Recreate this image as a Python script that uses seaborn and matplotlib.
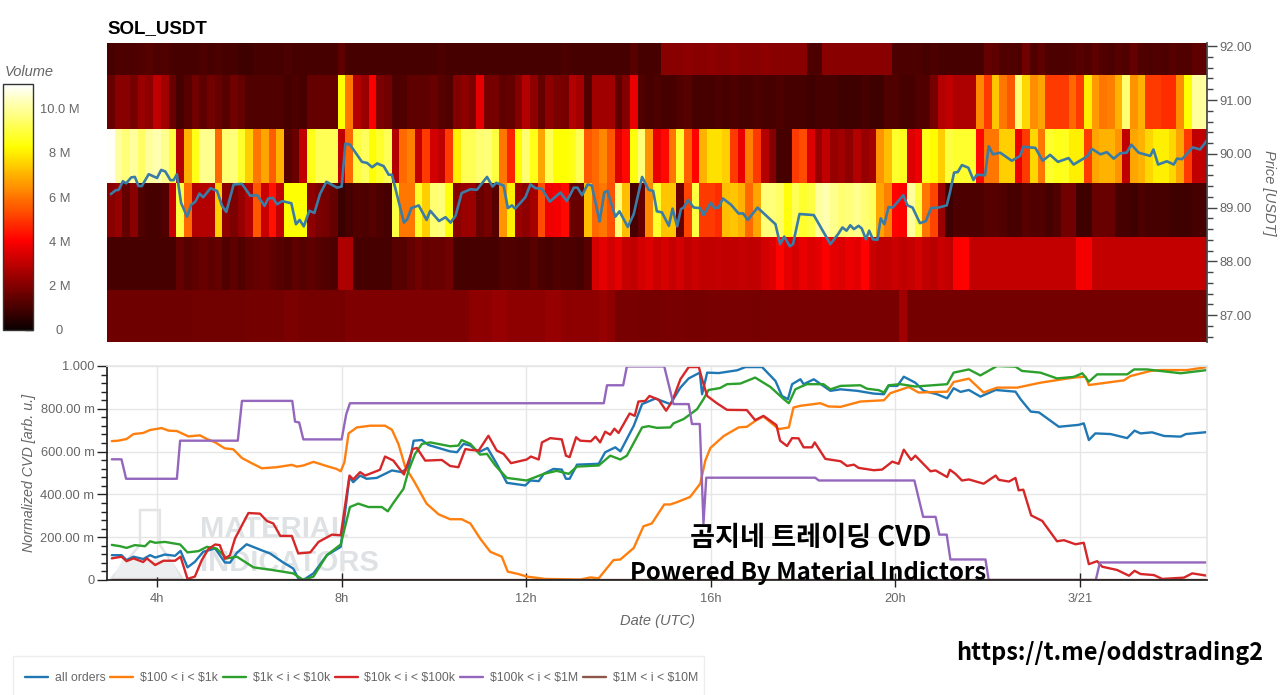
import matplotlib
matplotlib.use('Agg')
import matplotlib.pyplot as plt
from matplotlib.patches import Polygon, Rectangle
from matplotlib.ticker import FixedLocator, MultipleLocator
import numpy as np
import pandas as pd
import seaborn as sns

# volume per price band (millions), one value per 10 minute column
price_levels = [91.96, 90.96, 89.96, 88.96, 87.96, 86.96]
vol_92 = [1,1.1,1.1,1.1,1.2,1.3,1.1,1.2,1,1,
          1,1,1.1,1,1.1,1,1,0.9,0.9,1,
          1,1,1,1.1,1,1,1,1,1,1,
          1.4,1,1,1,1,1,1,1,1,1,
          1,1,1,1.1,1,1,1,1,1,1,
          1,1,1,1,1,1,1,1,1,1.1,
          1,1,1,1,1,1,1,1,1.3,1,
          1,1,2.1,2.1,2.1,2.2,2.1,2.1,2.2,2.1,
          2.1,2.2,2.1,2.1,2.1,2.2,2.1,2.1,2.1,2.1,
          2.1,1.1,1.1,2.1,2.1,2.1,2.1,2.1,2.1,2.1,
          2.1,2.1,1.1,1.1,1.1,1.1,1,1.1,1,1,
          1,1,1,1,1.5,1.4,1.2,1.2,1.1,1.7,
          1.2,1.4,1.1,1.1,1.1,1.2,1.3,1.2,1.4,1.2,
          1.1,1.3,1.2,1.5,1.2,1.1,1.2,1.1,1.3,1.2,
          1.2,1.4,1.4]
vol_91 = [1.6,2.1,2.1,1.8,2.4,2.2,3.0,2.5,1.6,1.0,
          1.3,1.7,1.4,1.7,1.5,1.3,1.7,1.5,1.2,1.2,
          1.2,1.2,1.2,1.0,1.1,1.0,1.5,1.5,1.5,1.5,
          8.3,6,2.8,2.4,4,1.9,1.7,1.1,1.2,1.4,
          1.4,1.4,1.6,1.3,1.2,2.0,2.2,1.9,3.6,1.8,
          1.8,1.4,1.5,2.0,2.8,2.2,1.5,2.2,1.9,1.8,
          2.8,2.6,1.2,2.5,2.5,2.5,1.4,2.0,3.7,1.2,
          1.0,1.1,1.0,1.0,1.2,1.3,1,1,1,1.1,
          1,1.1,1,1,1.1,1,1,1.1,1,1,
          1,0.9,1,1,1,0.9,0.9,0.9,1.0,0.9,
          0.9,1.2,1.2,1,1,1.2,1.2,1.8,2.8,3,
          2.7,2.7,2.7,6.3,5,7.3,6,5.5,9.6,7.6,
          6.4,6.8,5,5,5,5.8,5,8,6.6,6,
          6.2,7,9.5,6.5,7,5,5,4.8,4.8,6.4,
          8.3,10,10]
vol_90 = [11,10,9.6,10,9.4,10,10.2,9.8,9,2.8,
          7,8.5,9.8,9.8,5.8,9.5,9.6,8.8,7.5,6,
          6.8,5.6,7,1.3,1.6,3.0,8.5,9.2,9.2,9.2,
          3.0,5.8,9.0,9.3,8.3,8.8,9.2,2.8,5.8,6.2,
          3.0,5.0,3.3,3.0,5.0,8,9.2,9.2,9.5,9.6,
          9,6,4.6,8.3,9.5,8.5,6.8,9.2,8.3,8.3,
          8.5,9.2,5.5,5.8,6.3,5.5,3.5,4.2,8.4,9.6,
          6.5,3.7,4.2,6,8.8,5.6,4.1,7,7.8,7.8,
          7.5,5,3.7,6.2,5,2.8,2,1,1,5,
          5.3,3.5,2.3,3,2.3,2.5,2.2,2.8,2.3,2.6,
          6.5,7.2,8.8,8.6,3.5,3.8,8.5,8.2,7.5,9,
          8.8,8.8,8.8,4.2,6,6,7.5,7.5,3.8,5,
          7.6,6,8.8,8.5,8.6,8,8,5,6.8,7,
          7,6.5,3,6.8,7,7.6,8,8,7.6,6.8,
          5,3,3]
vol_89 = [2.1,2.3,1.5,2.1,1.2,1,1,1.2,3.2,9,
          5.8,2.8,2.8,2.8,7.5,2.2,1.9,2.3,2.8,5.5,
          3.2,4.3,3,8.3,8.3,8.3,2.2,1.9,1.8,1.5,
          0.8,1,1.2,1.1,1.3,1.1,1,9,6,6,
          8.8,7.5,9.5,9.6,8.4,2.1,2.4,2.4,1.6,1.8,
          1.3,6.5,8,2.4,2.2,2.6,5.3,3.8,3.9,4.2,
          1.6,1.6,7.2,5.8,6,5.4,9.6,7.2,1,1.5,
          6.3,8.8,7.3,7.3,1.6,5.2,9,5,5,4.8,
          7.2,7.3,7,5.8,6.8,9.6,9.6,9.4,8.4,9.2,
          8.8,9,10,10.2,9.8,9.5,9.6,9.8,9.5,9.3,
          6.8,6.2,4.1,4,10,9,6,5.2,2.4,0.9,
          1.1,1.1,1.1,1.1,1.3,1.3,1.2,1,1,1.3,
          1.2,1.2,1,1.2,1.7,1.7,0.9,0.9,1.6,1.6,
          1.6,1,1,0.9,1.1,1,1,1,0.9,0.9,
          0.9,1,1]
vol_88 = [1,1,1,1,1,1,1,1,1,1.5,
          1.3,1.4,1.6,1.4,1.5,1.2,1.4,1.2,1.4,1.5,
          1.6,1.4,1.3,1.2,1.4,1.3,1.4,1.3,1.2,1.1,
          2.7,2.7,1,1,1,1,1,1.3,1.3,1.5,
          1.7,1.5,1.6,1.6,1.7,1,1,1,1,1,
          1,1.2,1.2,1.1,1.1,1.3,1.1,1,1.2,1.1,
          1.1,1,1.3,3.4,3.6,3.3,3.6,3.1,3,3.3,
          3.5,3.2,3.4,3.1,3.3,3,3.2,3,3,3.1,
          3,3,3.1,3,3,3.3,3.5,4.1,3.6,3.4,
          3.7,3.5,3.6,4,3.6,3.5,3.7,3.6,4.1,3.2,
          3,3,3.2,3,3.1,3.3,3,2.9,3.2,3,
          4,4.1,3.05,3.05,3.05,3.05,3.05,3.05,3.05,3.05,
          3.05,3.05,3.05,3.05,3.05,3.05,3.9,3.9,3.05,3.05,
          3.05,3.05,3.05,3.05,3.05,3.05,3.05,3.05,3.05,3.05,
          3.05,3.05,3.05]
vol_87 = [1.65,1.65,1.65,1.65,1.65,1.65,1.65,1.65,1.65,1.65,
          1.65,1.7,1.7,1.7,1.7,1.7,1.7,1.7,1.75,1.75,
          1.75,1.75,1.75,1.9,1.9,1.8,1.8,1.8,1.8,1.8,
          1.8,1.95,1.95,1.95,1.95,1.95,1.95,1.95,1.95,1.95,
          1.95,1.95,1.95,1.95,1.95,1.95,1.95,2.2,2.2,2.2,
          2.3,2.3,2.2,2.2,2.2,2.2,2.2,2.3,2.3,2.2,
          2.2,2.2,2.2,2.2,2.3,2.2,1.85,1.85,1.85,1.8,
          1.8,1.8,1.85,1.85,1.85,1.8,1.8,1.8,1.85,1.85,
          1.85,1.85,1.85,1.85,1.8,1.85,1.85,1.85,1.85,1.85,
          1.85,1.85,1.85,1.85,1.85,1.85,1.85,1.85,1.85,1.85,
          1.85,1.85,1.85,2.5,1.75,1.75,1.75,1.75,1.75,1.75,
          1.75,1.75,1.75,1.75,1.75,1.75,1.75,1.75,1.75,1.75,
          1.75,1.75,1.75,1.75,1.75,1.75,1.75,1.75,1.75,1.75,
          1.75,1.75,1.75,1.75,1.75,1.75,1.75,1.75,1.75,1.75,
          1.75,1.75,1.75]

# price line, hours since 3/20 00:00
price_t = [3.00,3.10,3.17,3.26,3.33,3.44,3.52,3.60,3.67,3.82,4.00,4.09,4.18,4.29,4.36,4.43,4.52,4.65,4.74,4.83,4.92,5.00,5.16,5.30,5.41,5.50,5.66,5.84,6.02,6.17,6.33,6.41,6.51,6.60,6.71,6.91,7.01,7.09,7.18,7.30,7.41,7.53,7.67,7.90,8.00,8.08,8.18,8.44,8.55,8.66,8.77,8.91,9.02,9.09,9.35,9.42,9.51,9.67,9.84,9.92,10.11,10.25,10.36,10.47,10.60,10.79,
           10.93,11.15,11.27,11.35,11.51,11.60,11.69,11.76,11.98,12.09,12.20,12.34,12.51,12.74,12.88,13.03,13.11,13.21,13.33,13.42,13.59,13.69,13.76,13.93,14.02,14.20,14.33,14.51,14.65,14.75,14.83,14.94,15.09,15.17,15.27,15.35,15.41,15.50,15.63,15.77,15.84,16.00,16.08,16.17,16.26,16.44,16.60,16.70,16.80,17.01,17.40,17.50,17.59,17.71,17.78,17.92,18.23,18.59,
           18.76,18.85,18.94,19.02,19.10,19.20,19.27,19.36,19.43,19.51,19.61,19.68,19.76,19.85,19.94,20.17,20.26,20.37,20.53,20.66,20.77,20.93,21.11,21.18,21.27,21.35,21.44,21.58,21.69,21.76,21.94,22.02,22.11,22.27,22.52,22.70,22.77,23.03,23.19,23.35,23.52,23.75,23.86,24.15,24.26,24.44,24.58,24.73,24.87,25.01,25.11,25.27,25.52,25.59,25.69,25.88,26.03,26.10,26.21,26.44,26.60,26.75]
price_v = [89.25,89.32,89.33,89.49,89.45,89.56,89.57,89.40,89.40,89.62,89.55,89.70,89.67,89.51,89.51,89.62,89.09,88.83,89.05,89.11,89.26,89.19,89.36,89.31,89.03,88.92,89.43,89.44,89.22,89.23,89.03,89.17,89.18,89.06,89.12,89.08,88.69,88.77,88.65,88.94,88.90,89.25,89.48,89.37,89.39,90.19,90.17,89.85,89.83,89.75,89.82,89.77,89.61,89.61,88.72,88.78,88.99,89.04,88.77,88.94,88.75,88.82,88.72,88.85,89.27,89.34,
           89.33,89.57,89.39,89.46,89.41,88.99,89.04,88.98,89.19,89.43,89.36,89.35,89.11,89.28,89.12,89.37,89.37,89.23,89.43,89.41,88.74,89.28,89.31,88.83,88.93,88.64,88.88,89.57,89.33,89.31,88.93,88.91,88.66,88.98,88.65,88.97,89.00,89.14,89.00,88.99,88.86,89.09,88.99,89.00,89.17,89.05,88.89,88.89,88.77,89.00,88.69,88.32,88.46,88.28,88.32,88.88,88.86,88.32,
           88.51,88.63,88.57,88.67,88.60,88.66,88.61,88.41,88.57,88.41,88.40,88.80,88.69,89.01,89.00,89.23,89.04,89.00,88.71,88.75,88.99,89.00,89.04,89.28,89.65,89.66,89.79,89.74,89.51,89.61,89.60,90.14,89.99,90.02,89.87,89.96,90.13,90.11,89.87,89.98,89.85,89.92,89.80,89.95,90.09,89.99,90.03,89.91,90.01,90.02,90.17,90.02,89.96,90.08,89.80,89.86,89.80,89.91,89.90,90.12,90.08,90.25]

# normalized CVD series
all_t = [3.02,3.23,3.34,3.49,3.70,3.85,3.96,4.17,4.39,4.51,4.66,4.82,5.00,5.26,5.47,5.58,5.73,5.94,6.30,6.45,6.74,6.95,7.06,7.17,7.39,7.68,7.98,8.17,8.25,8.40,8.54,8.76,9.09,9.30,9.45,9.56,9.74,9.88,10.35,10.50,10.64,
         10.79,10.97,11.16,11.36,11.58,11.98,12.09,12.27,12.38,12.59,12.77,12.86,12.94,13.10,13.57,13.71,13.93,14.04,14.33,14.51,14.80,15.12,15.34,15.52,15.76,15.81,15.92,16.17,16.57,16.75,17.11,17.40,17.54,17.67,17.76,17.94,18.01,18.23,18.41,18.59,
         18.81,19.17,19.53,19.75,19.85,20.04,20.18,20.43,20.61,20.90,21.12,21.26,21.41,21.59,21.84,22.17,22.60,22.71,22.93,23.11,23.54,23.97,24.08,24.19,24.33,24.66,25.02,25.18,25.31,25.56,25.82,26.18,26.29,26.75]
all_v = [.116,.116,.093,.109,.098,.116,.105,.119,.113,.136,.059,.085,.132,.147,.082,.081,.127,.167,.136,.124,.081,.054,.008,0,.031,.116,.155,.481,.457,.488,.473,.477,.512,.504,.527,.651,.654,.631,.601,.597,.636,
         .628,.597,.617,.543,.454,.442,.465,.462,.496,.519,.516,.473,.473,.539,.543,.597,.620,.601,.721,.822,.848,.822,.899,.942,.969,.868,.969,.967,.980,.995,.995,.930,.860,.845,.915,.938,.915,.938,.911,.884,
         .891,.884,.871,.868,.907,.907,.950,.922,.884,.868,.849,.896,.879,.888,.857,.888,.880,.845,.787,.783,.716,.725,.732,.654,.685,.682,.663,.698,.685,.690,.673,.670,.682,.691]

o100_t = [3.02,3.16,3.34,3.49,3.70,3.85,4.10,4.25,4.43,4.68,4.93,5.08,5.26,5.47,5.65,5.84,6.05,6.27,6.59,6.92,7.03,7.17,7.39,7.68,7.89,7.98,8.06,8.15,8.33,8.62,8.94,9.09,9.23,9.38,9.56,9.84,10.10,10.35,10.60,
          10.79,11.00,11.22,11.47,11.60,11.83,12.01,12.41,13.17,13.39,13.57,13.89,14.04,14.33,14.54,14.72,14.99,15.12,15.27,15.55,15.77,15.88,15.99,16.28,16.60,16.78,17.00,17.14,17.47,17.69,17.79,17.94,18.37,18.55,
          18.81,19.24,19.75,19.89,20.29,20.50,21.12,21.26,21.59,21.91,22.20,22.64,23.14,23.86,24.12,24.19,24.95,25.09,25.53,25.74,26.32,26.75]
o100_v = [.649,.651,.659,.682,.687,.701,.710,.698,.696,.671,.676,.659,.643,.615,.611,.570,.546,.522,.527,.538,.530,.535,.552,.532,.519,.508,.550,.685,.713,.721,.721,.702,.636,.527,.465,.357,.307,.284,.284,
          .264,.194,.132,.109,.039,.028,.016,.005,.002,.012,.008,.093,.096,.150,.251,.264,.353,.353,.364,.388,.450,.558,.617,.673,.713,.716,.749,.764,.705,.713,.806,.814,.826,.811,
          .809,.834,.840,.873,.902,.876,.880,.925,.941,.876,.899,.899,.922,.946,.950,.911,.933,.953,.977,.981,.981,.995]

o1k_t = [3.02,3.20,3.34,3.52,3.74,3.85,3.96,4.17,4.50,4.66,4.90,5.08,5.29,5.51,5.73,6.09,6.49,6.95,7.17,7.39,7.68,7.98,8.18,8.36,8.58,8.87,9.00,9.12,9.34,9.45,9.59,9.74,9.92,10.35,10.53,10.60,
         10.79,11.00,11.15,11.33,11.58,12.01,12.38,12.66,12.92,13.10,13.57,13.82,14.04,14.18,14.51,14.65,14.83,15.12,15.19,15.41,15.70,15.84,15.95,16.20,16.35,16.64,16.96,17.29,17.58,17.69,17.83,17.94,18.08,18.44,18.59,
         18.81,19.24,19.38,19.64,19.75,19.85,20.11,20.43,21.12,21.26,21.59,21.84,22.20,22.60,22.74,23.14,23.50,23.86,24.05,24.19,24.37,25.02,25.17,25.45,26.18,26.75]
o1k_v = [.164,.158,.150,.163,.158,.181,.174,.178,.166,.129,.135,.155,.147,.101,.109,.059,.047,.031,0,.016,.116,.166,.341,.357,.341,.341,.321,.360,.426,.512,.589,.636,.643,.625,.628,.654,
         .636,.586,.589,.535,.477,.465,.496,.510,.496,.530,.535,.581,.563,.581,.713,.719,.711,.713,.732,.752,.798,.845,.888,.897,.915,.918,.946,.902,.845,.826,.891,.902,.915,.915,.891,
         .907,.910,.894,.887,.876,.910,.915,.904,.915,.969,.984,.956,1.0,.997,.977,.969,.942,.949,.966,.927,.961,.961,.984,.984,.966,.981]

o10k_t = [3.02,3.23,3.34,3.49,3.70,3.78,3.96,4.14,4.39,4.51,4.66,4.82,4.97,5.11,5.26,5.36,5.47,5.58,5.69,5.98,6.23,6.38,6.52,6.67,6.92,7.06,7.32,7.50,7.79,7.98,8.17,8.25,8.40,8.51,8.83,8.94,9.12,9.35,9.54,9.63,9.81,10.17,10.35,10.53,10.68,
          10.79,10.97,11.18,11.36,11.51,11.67,12.01,12.10,12.27,12.34,12.52,12.77,12.86,12.94,13.08,13.17,13.40,13.50,13.60,13.71,13.82,13.91,14.00,14.24,14.35,14.43,14.58,14.67,14.87,15.03,15.16,15.34,15.52,15.74,15.81,15.92,16.13,16.35,16.78,16.96,17.14,17.42,17.50,17.65,17.76,17.90,18.01,18.19,18.25,18.48,
          18.81,18.95,19.10,19.20,19.53,19.71,19.93,20.07,20.18,20.34,20.43,20.76,20.87,21.12,21.18,21.30,21.44,21.59,21.91,22.17,22.24,22.46,22.60,22.67,22.77,22.94,23.18,23.50,23.65,23.90,24.08,24.19,24.37,24.48,24.80,25.06,25.18,25.31,25.60,25.78,26.25,26.43,26.75]
o10k_v = [.101,.109,.088,.101,.084,.101,.070,.090,.090,.109,.005,.016,.093,.144,.166,.163,.099,.116,.194,.313,.310,.276,.264,.206,.206,.124,.129,.178,.212,.209,.488,.470,.504,.488,.515,.577,.558,.493,.612,.617,.558,.561,.533,.527,.612,
          .608,.605,.674,.605,.589,.546,.563,.577,.563,.643,.663,.657,.581,.574,.667,.651,.648,.670,.643,.693,.679,.707,.687,.778,.767,.834,.837,.860,.842,.791,.834,.938,.995,.995,.938,.860,.826,.795,.794,.747,.767,.724,.651,.626,.663,.662,.620,.620,.643,.566,
          .555,.533,.539,.524,.513,.516,.553,.543,.609,.561,.581,.508,.512,.481,.515,.496,.465,.470,.450,.488,.468,.460,.477,.419,.422,.302,.276,.181,.186,.167,.174,.074,.088,.062,.047,.020,.043,.028,.023,.005,.011,.031,.020]

o100k_t = [3.02,3.23,3.33,4.43,4.50,5.75,5.84,6.93,6.99,7.08,7.17,8.00,8.10,8.18,
           13.68,13.75,14.10,14.18,14.99,15.19,15.52,15.59,15.76,15.84,15.90,18.26,18.34,
           20.41,20.60,20.87,20.95,21.11,21.19,21.95,22.02,24.34,24.43,26.75]
o100k_v = [.564,.564,.473,.473,.651,.651,.837,.837,.740,.736,.657,.657,.775,.826,
           .826,.910,.910,.998,.998,.822,.822,.729,.729,.264,.478,.478,.465,
           .465,.295,.295,.212,.212,.096,.096,0,0,.082,.082]

o1m_t = [3.02, 26.75]
o1m_v = [0, 0]

series_names = ['all orders', '$100 < i < $1k', '$1k < i < $10k', '$10k < i < $100k', '$100k < i < $1M', '$1M < i < $10M']
series_t = [all_t, o100_t, o1k_t, o10k_t, o100k_t, o1m_t]
series_v = [all_v, o100_v, o1k_v, o10k_v, o100k_v, o1m_v]

x_ticks = [4, 8, 12, 16, 20, 24]
x_labels = ['4h', '8h', '12h', '16h', '20h', '3/21']
cvd_ticks = [0, .2, .4, .6, .8, 1.0]
cvd_labels = ['0', '200.00 m', '400.00 m', '600.00 m', '800.00 m', '1.000']
price_ticks = [87, 88, 89, 90, 91, 92]
vol_ticks = [0, 2, 4, 6, 8, 10]
vol_labels = ['0', '2 M', '4 M', '6 M', '8 M', '10.0 M']

sns.set_theme(style='white')
plt.rcParams['font.family'] = ['Liberation Sans', 'DejaVu Sans']
grey = '#666666'
W, H = 1280, 695


def box(left, top, right, bottom):
    # pixel box to figure fractions
    return [left / W, 1 - bottom / H, (right - left) / W, (bottom - top) / H]


fig = plt.figure(figsize=(12.8, 6.95), dpi=100)
ax_heat = fig.add_axes(box(107, 43, 1207, 342))
ax_cbar = fig.add_axes(box(3, 84, 33, 330))
ax_cvd = fig.add_axes(box(107, 366, 1207, 580))

x_min, x_max = 2.916, 26.75
y_min, y_max = 86.5, 92.06

### heatmap
volume = pd.DataFrame([vol_92, vol_91, vol_90, vol_89, vol_88, vol_87], index=price_levels)
sns.heatmap(volume, ax=ax_heat, cmap='hot', vmin=0, vmax=11.1, cbar_ax=ax_cbar,
            xticklabels=False, yticklabels=False)
ax_heat.set_xlabel('')
ax_heat.set_ylabel('')
# bands are one dollar tall and the top and bottom ones are cut by the price range
top_edge = price_levels[0] + 0.5
ax_heat.set_ylim(top_edge - y_min, top_edge - y_max)
ax_heat.set_title('SOL_USDT', loc='left', fontsize=13.5, fontweight='bold', color='black', pad=7.5)

### price line on top of the heatmap
ax_price = fig.add_axes(box(107, 43, 1207, 342), facecolor='none')
sns.lineplot(x=price_t, y=price_v, ax=ax_price, color='#3a7ca5', linewidth=1.9, estimator=None, sort=False)
ax_price.set_xlim(x_min, x_max)
ax_price.set_ylim(y_min, y_max)
ax_price.xaxis.set_visible(False)
ax_price.yaxis.tick_right()
ax_price.yaxis.set_label_position('right')
ax_price.set_yticks(price_ticks)
ax_price.set_yticklabels(['%.2f' % p for p in price_ticks])
ax_price.yaxis.set_minor_locator(MultipleLocator(0.2))
ax_price.tick_params(axis='y', which='major', direction='out', length=7, width=1, color='#444444',
                     labelsize=9.3, labelcolor=grey, pad=2, right=True)
ax_price.tick_params(axis='y', which='minor', direction='out', length=4, width=1, color='#444444', right=True)
ax_price.set_ylabel('Price [USDT]', fontsize=10.5, style='italic', color=grey, rotation=-90, labelpad=17)
for side in ['left', 'bottom', 'top']:
    ax_price.spines[side].set_visible(False)
ax_price.spines['right'].set_visible(True)
ax_price.spines['right'].set_color('#444444')

### colorbar
cbar = ax_heat.collections[0].colorbar
cbar.set_ticks(vol_ticks)
cbar.set_ticklabels(vol_labels)
cbar.ax.tick_params(direction='in', length=6, width=1, color='#222222', labelsize=9.3, labelcolor=grey, pad=19, right=True)
for lab in cbar.ax.get_yticklabels():
    lab.set_ha('center')
cbar.outline.set_visible(True)
cbar.outline.set_edgecolor('#333333')
cbar.outline.set_linewidth(1)
fig.text(5 / W, 1 - 72 / H, 'Volume', fontsize=10.5, style='italic', color=grey, va='center')

### watermark, sits under the lines
ax_cvd.text(0.085, 0.238, 'MATERIAL', transform=ax_cvd.transAxes, fontsize=21, fontweight='bold',
            color='#dfe2e4', va='center', zorder=0.5)
ax_cvd.text(0.085, 0.08, 'INDICATORS', transform=ax_cvd.transAxes, fontsize=21, fontweight='bold',
            color='#dfe2e4', va='center', zorder=0.5)
flask = [(0.030, 0.327), (0.048, 0.327), (0.048, 0.164), (0.068, 0.01), (0.0045, 0.01), (0.030, 0.164)]
liquid = [(0.0136, 0.093), (0.059, 0.093), (0.066, 0.012), (0.006, 0.012)]
ax_cvd.add_patch(Polygon(flask, closed=True, transform=ax_cvd.transAxes, facecolor='white',
                         edgecolor='#e2e4e6', linewidth=1.8, zorder=0.5))
ax_cvd.add_patch(Polygon(liquid, closed=True, transform=ax_cvd.transAxes, facecolor='#eceef0',
                         edgecolor='none', zorder=0.6))

### CVD lines
cvd = pd.concat([pd.DataFrame({'t': t, 'v': v, 'group': name})
                 for t, v, name in zip(series_t, series_v, series_names)])
palette = ['#1f77b4', '#ff7f0e', '#2ca02c', '#d62728', '#9467bd', '#8c564b']
sns.lineplot(data=cvd, x='t', y='v', hue='group', hue_order=series_names, palette=palette,
             ax=ax_cvd, linewidth=1.7, estimator=None, sort=False)
ax_cvd.set_xlim(x_min, x_max)
ax_cvd.set_ylim(0, 1.0)
ax_cvd.set_xticks(x_ticks)
ax_cvd.set_xticklabels(x_labels)
ax_cvd.set_yticks(cvd_ticks)
ax_cvd.set_yticklabels(cvd_labels)
ax_cvd.yaxis.set_minor_locator(FixedLocator(np.arange(0, 1.001, 0.04)))
ax_cvd.grid(True, which='major', color='#e6e6e6', linewidth=1)
ax_cvd.set_axisbelow(True)
ax_cvd.tick_params(axis='x', which='major', direction='inout', length=10, width=1, color='#222222',
                   labelsize=9.3, labelcolor=grey, pad=4, bottom=True)
ax_cvd.tick_params(axis='y', which='major', direction='out', length=7, width=1, color='#222222',
                   labelsize=9.3, labelcolor=grey, pad=2, left=True)
ax_cvd.tick_params(axis='y', which='minor', direction='out', length=4, width=1, color='#222222', left=True)
ax_cvd.set_xlabel('Date (UTC)', fontsize=10.5, style='italic', color=grey, labelpad=7)
ax_cvd.set_ylabel('Normalized CVD [arb. u.]', fontsize=10.3, style='italic', color=grey, labelpad=3)
ax_cvd.spines['left'].set_color('#222222')
ax_cvd.spines['bottom'].set_color('#222222')
ax_cvd.spines['top'].set_color('#e6e6e6')
ax_cvd.spines['right'].set_color('#e6e6e6')
for side in ax_cvd.spines:
    ax_cvd.spines[side].set_visible(True)

### legend, its box runs off the bottom of the picture
fig.add_artist(Rectangle((13 / W, -0.02), 691 / W, 1 - 656 / H + 0.02, transform=fig.transFigure,
                         facecolor='white', edgecolor='#eeeeee', linewidth=1, zorder=-1))
sns.move_legend(ax_cvd, loc='center left', bbox_to_anchor=(25 / W, 1 - 678 / H),
                bbox_transform=fig.transFigure, ncol=6, title=None, frameon=False, fontsize=8.8,
                handlelength=1.88, handletextpad=0.55, columnspacing=0.4, borderpad=0, borderaxespad=0)
for text in ax_cvd.get_legend().get_texts():
    text.set_color(grey)
    # the dollar signs are plain text here
    text.set_parse_math(False)

### pasted captions
cap = ['Noto Sans CJK KR', 'DejaVu Sans']
fig.text(811 / W, 1 - 538 / H, '곰지네 트레이딩 CVD', family=cap, fontsize=19.6, fontweight='bold',
         color='black', ha='center', va='center')
fig.text(808 / W, 1 - 573 / H, 'Powered By Material Indictors', family=cap, fontsize=17.25, fontweight='bold',
         color='black', ha='center', va='center')
fig.text(1110 / W, 1 - 653 / H, 'https://t.me/oddstrading2', family=cap, fontsize=16.95, fontweight='bold',
         color='black', ha='center', va='center')

plt.savefig('out.png', dpi=100)
